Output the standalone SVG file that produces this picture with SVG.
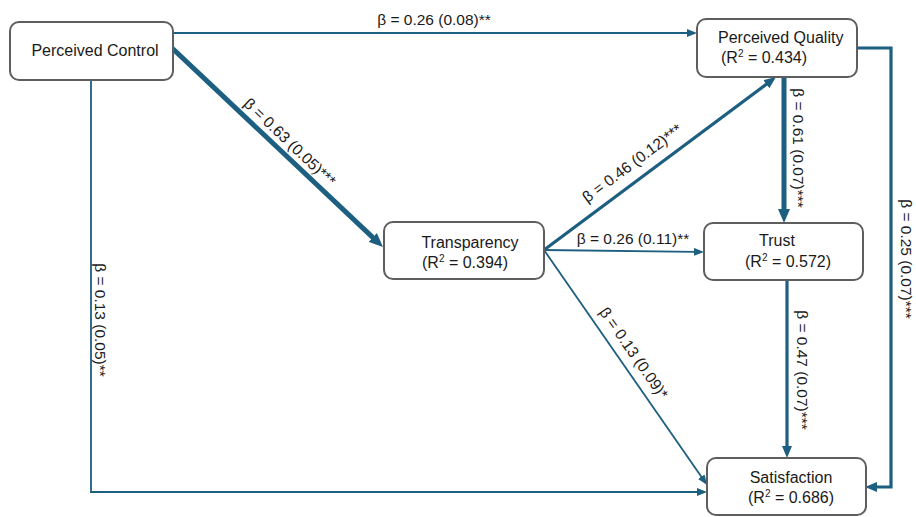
<svg xmlns="http://www.w3.org/2000/svg" width="916" height="517" viewBox="0 0 916 517">
  <style>
    .box { fill: #ffffff; stroke: #5e5e5e; stroke-width: 2; }
    .nt { font-family: "Liberation Sans", Arial, sans-serif; font-size: 16px; fill: #1a1a1a; }
    .el { font-family: "Liberation Sans", Arial, sans-serif; font-size: 15.5px; fill: #1a1a1a; text-anchor: middle; dominant-baseline: central; }
    .c { fill: none; stroke: #1d5f80; }
    .w1 { stroke-width: 1.8; }
    .w3 { stroke-width: 3.2; }
    .w5 { stroke-width: 5; }
  </style>
  <defs>
    <marker id="arrS" markerUnits="userSpaceOnUse" viewBox="0 0 10 8" markerWidth="10" markerHeight="8" refX="1" refY="4" orient="auto">
      <path d="M0,0 L10,4 L0,8 z" fill="#1d5f80"/>
    </marker>
    <marker id="arrM" markerUnits="userSpaceOnUse" viewBox="0 0 12 10" markerWidth="12" markerHeight="10" refX="1" refY="5" orient="auto">
      <path d="M0,0 L12,5 L0,10 z" fill="#1d5f80"/>
    </marker>
    <marker id="arrL" markerUnits="userSpaceOnUse" viewBox="0 0 14 12" markerWidth="14" markerHeight="12" refX="1" refY="6" orient="auto">
      <path d="M0,0 L14,6 L0,12 z" fill="#1d5f80"/>
    </marker>
  </defs>

  <g id="connectors">
    <line class="c w1" x1="173" y1="33" x2="688" y2="33" marker-end="url(#arrS)"/>
    <line class="c w5" x1="172" y1="48" x2="373.5" y2="238.1" marker-end="url(#arrL)"/>
    <path class="c w1" d="M91,80 V492 H698" marker-end="url(#arrS)"/>
    <line class="c w3" x1="544" y1="250" x2="767.2" y2="83.6" marker-end="url(#arrM)"/>
    <line class="c w1" x1="544" y1="250" x2="695" y2="251.9" marker-end="url(#arrS)"/>
    <line class="c w1" x1="544" y1="250" x2="701.9" y2="477.6" marker-end="url(#arrS)"/>
    <line class="c w5" x1="784" y1="77" x2="784" y2="210" marker-end="url(#arrL)"/>
    <line class="c w3" x1="787" y1="280" x2="787" y2="447" marker-end="url(#arrM)"/>
    <path class="c w3" d="M857,48 H891 V487 H876" marker-end="url(#arrM)"/>

    <text class="el" x="434" y="19">β = 0.26 (0.08)**</text>
    <text class="el" transform="translate(290,142) rotate(43.5)">β = 0.63 (0.05)***</text>
    <text class="el" transform="translate(100,320) rotate(90)">β = 0.13 (0.05)**</text>
    <text class="el" transform="translate(632,163) rotate(-36.7)">β = 0.46 (0.12)***</text>
    <text class="el" x="633" y="238">β = 0.26 (0.11)**</text>
    <text class="el" transform="translate(634,353) rotate(55.2)">β = 0.13 (0.09)*</text>
    <text class="el" transform="translate(798,148) rotate(90)">β = 0.61 (0.07)***</text>
    <text class="el" transform="translate(802,370) rotate(90)">β = 0.47 (0.07)***</text>
    <text class="el" transform="translate(906,259) rotate(90)">β = 0.25 (0.07)***</text>
  </g>

  <g id="node-perceived-control">
    <rect class="box" x="10" y="22" width="163" height="58" rx="9"/>
    <text class="nt" x="95" y="56" text-anchor="middle">Perceived Control</text>
  </g>

  <g id="node-perceived-quality">
    <rect class="box" x="697" y="19" width="160" height="58" rx="9"/>
    <text class="nt" x="718" y="43">Perceived Quality</text>
    <text class="nt" x="721" y="63">(R<tspan font-size="10" dy="-6">2</tspan><tspan dy="6"> = 0.434)</tspan></text>
  </g>

  <g id="node-transparency">
    <rect class="box" x="384" y="222" width="160" height="57" rx="9"/>
    <text class="nt" x="470" y="248" text-anchor="middle">Transparency</text>
    <text class="nt" x="422" y="268">(R<tspan font-size="10" dy="-6">2</tspan><tspan dy="6"> = 0.394)</tspan></text>
  </g>

  <g id="node-trust">
    <rect class="box" x="704" y="223" width="159" height="57" rx="9"/>
    <text class="nt" x="777" y="246" text-anchor="middle">Trust</text>
    <text class="nt" x="745" y="267">(R<tspan font-size="10" dy="-6">2</tspan><tspan dy="6"> = 0.572)</tspan></text>
  </g>

  <g id="node-satisfaction">
    <rect class="box" x="707" y="458" width="159" height="57" rx="9"/>
    <text class="nt" x="791" y="483" text-anchor="middle">Satisfaction</text>
    <text class="nt" x="748" y="503">(R<tspan font-size="10" dy="-6">2</tspan><tspan dy="6"> = 0.686)</tspan></text>
  </g>
</svg>
